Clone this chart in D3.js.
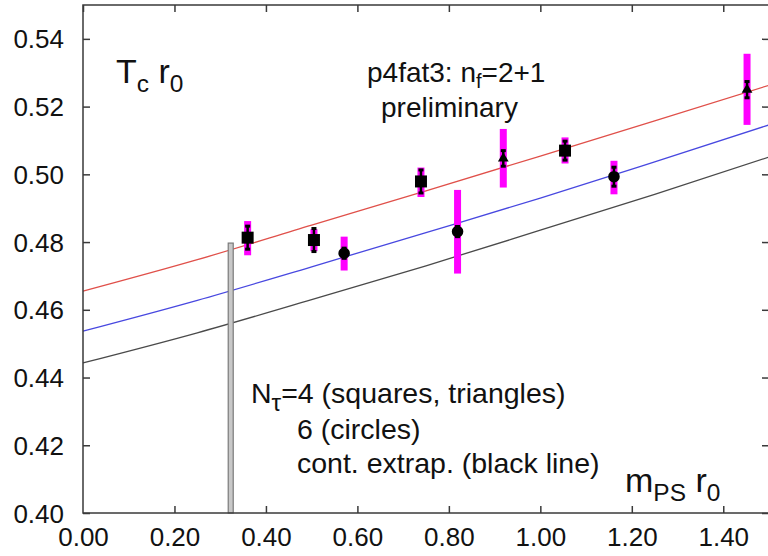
<!DOCTYPE html>
<html><head><meta charset="utf-8">
<script src="https://cdn.jsdelivr.net/npm/d3@7"></script>
<style>body{margin:0;background:#fff}svg{display:block}text{font-family:"Liberation Sans",Arial,Helvetica,sans-serif;fill:#111}</style>
</head><body><svg id="c" width="768" height="556"></svg>
<script>
// ---- data ----
const xTicks = [0.00, 0.20, 0.40, 0.60, 0.80, 1.00, 1.20, 1.40];
const yTicks = [0.40, 0.42, 0.44, 0.46, 0.48, 0.50, 0.52, 0.54];

// N_tau = 4 squares
const sqM   = [0.360, 0.505, 0.739, 1.054];
const sqT   = [0.4813, 0.4806, 0.4979, 0.5070];
const sqLo  = [0.4761, 0.4773, 0.4933, 0.5032];
const sqHi  = [0.4862, 0.4838, 0.5020, 0.5109];
const sqErr = [0.0034, 0.0034, 0.0034, 0.0028];

// N_tau = 4 triangles
const trM   = [0.919, 1.452];
const trT   = [0.5047, 0.5250];
const trLo  = [0.4961, 0.5146];
const trHi  = [0.5134, 0.5356];
const trErr = [0.0023, 0.0024];

// N_tau = 6 circles
const ciM   = [0.571, 0.819, 1.161];
const ciT   = [0.4767, 0.4831, 0.4993];
const ciLo  = [0.4716, 0.4707, 0.4941];
const ciHi  = [0.4816, 0.4954, 0.5040];
const ciErr = [0.0015, 0.0015, 0.0028];

// fit curves
const curveM  = [0.00, 0.25, 0.50, 0.75, 1.00, 1.25, 1.50];
const redT    = [0.4655, 0.4748, 0.4850, 0.4951, 0.5054, 0.5158, 0.5263];
const blueT   = [0.4537, 0.4628, 0.4727, 0.4828, 0.4930, 0.5037, 0.5146];
const blackT  = [0.4443, 0.4532, 0.4630, 0.4730, 0.4835, 0.4941, 0.5051];

// physical point marker
const physM = [0.323];
const physTop = [0.4797];

// ---- drawing ----
const svg = d3.select("#c");
const L = 83, R = 769, T = 5, B = 513;
const x = d3.scaleLinear().domain([0, 1.5]).range([L, R]);
const y = d3.scaleLinear().domain([0.40, 0.55]).range([B, T]);

// curves
const line = d3.line().x(d => x(d[0])).y(d => y(d[1])).curve(d3.curveMonotoneX);
[[redT, "#e0504a"], [blueT, "#4848e0"], [blackT, "#4a4a4a"]].forEach(([vals, col]) => {
  svg.append("path").datum(curveM.map((m, i) => [m, vals[i]]))
    .attr("d", line).attr("fill", "none").attr("stroke", col).attr("stroke-width", 1.3);
});

// gray physical bar
physM.forEach((m, i) => {
  svg.append("rect").attr("x", x(m) - 2.5).attr("width", 5)
    .attr("y", y(physTop[i])).attr("height", y(0.40) - y(physTop[i]))
    .attr("fill", "#c8c8c8").attr("stroke", "#7a7a7a").attr("stroke-width", 1.2);
});

// error bars
function bars(M, lo, hi, Tv, err) {
  M.forEach((m, i) => {
    svg.append("line").attr("x1", x(m)).attr("x2", x(m)).attr("y1", y(lo[i])).attr("y2", y(hi[i]))
      .attr("stroke", "#ff00ff").attr("stroke-width", 7);
  });
  M.forEach((m, i) => {
    const a = y(Tv[i] - err[i]), b = y(Tv[i] + err[i]);
    svg.append("line").attr("x1", x(m)).attr("x2", x(m)).attr("y1", a).attr("y2", b)
      .attr("stroke", "#000").attr("stroke-width", 2.5);
    [a, b].forEach(v => svg.append("rect").attr("x", x(m) - 2.5).attr("y", v - 1.5)
      .attr("width", 5).attr("height", 3).attr("fill", "#000"));
  });
}
bars(sqM, sqLo, sqHi, sqT, sqErr);
bars(trM, trLo, trHi, trT, trErr);
bars(ciM, ciLo, ciHi, ciT, ciErr);

// markers
const sym = { sq: d3.symbol().type(d3.symbolSquare).size(144),
              ci: d3.symbol().type(d3.symbolCircle).size(105),
              tr: d3.symbol().type(d3.symbolTriangle).size(50) };
sqM.forEach((m, i) => svg.append("path").attr("d", sym.sq()).attr("transform", `translate(${x(m)},${y(sqT[i])})`).attr("fill", "#000"));
ciM.forEach((m, i) => svg.append("path").attr("d", sym.ci()).attr("transform", `translate(${x(m)},${y(ciT[i])})`).attr("fill", "#000"));
trM.forEach((m, i) => svg.append("path").attr("d", sym.tr()).attr("transform", `translate(${x(m)},${y(trT[i])})`).attr("fill", "#000"));

// frame
const frameCol = "#3a3a3a";
svg.append("rect").attr("x", L).attr("y", T).attr("width", R - L).attr("height", B - T)
  .attr("fill", "none").attr("stroke", frameCol).attr("stroke-width", 1.5);

// axes (inward ticks)
const fmt = d3.format(".2f");
const gx = svg.append("g").attr("transform", `translate(0,${B})`)
  .call(d3.axisBottom(x).tickValues(xTicks).tickFormat(fmt).tickSizeInner(-7).tickSizeOuter(0).tickPadding(15));
const gxt = svg.append("g").attr("transform", `translate(0,${T})`)
  .call(d3.axisTop(x).tickValues(xTicks).tickFormat("").tickSizeInner(-7).tickSizeOuter(0));
const gy = svg.append("g").attr("transform", `translate(${L},0)`)
  .call(d3.axisLeft(y).tickValues(yTicks).tickFormat(fmt).tickSizeInner(-7).tickSizeOuter(0).tickPadding(19));
const gyr = svg.append("g").attr("transform", `translate(${R},0)`)
  .call(d3.axisRight(y).tickValues(yTicks).tickFormat("").tickSizeInner(-7).tickSizeOuter(0));
[gx, gxt, gy, gyr].forEach(g => {
  g.select(".domain").remove();
  g.selectAll(".tick line").attr("stroke", frameCol).attr("stroke-width", 1.5);
  g.selectAll("text").style("font-size", "26px").attr("fill", "#111");
});
gx.selectAll(".tick text").attr("dy", "0.71em");
gy.selectAll(".tick text").attr("dy", "0.35em");
gx.selectAll(".tick").filter(d => d === 0).select("line").remove();

// labels
function label(xp, yp, parts, size) {
  const t = svg.append("text").attr("x", xp).attr("y", yp).style("font-size", size + "px");
  let shift = 0;
  parts.forEach(p => {
    const sub = p.sub;
    const target = sub ? sub : 0;
    t.append("tspan").text(p.t).attr("dy", target - shift).style("font-size", (sub ? size * (p.scale || 0.72) : size) + "px");
    shift = target;
  });
  return t;
}
label(116, 83, [{t: "T"}, {t: "c", sub: 9}, {t: " r"}, {t: "0", sub: 9}], 34);
label(367, 82, [{t: "p4fat3: n"}, {t: "f", sub: 6}, {t: "=2+1"}], 28);
label(381, 117, [{t: "preliminary"}], 28);
label(251, 403, [{t: "N"}, {t: "τ", sub: 8, scale: 0.85}, {t: "=4 (squares, triangles)"}], 28.5);
label(297, 439, [{t: "6 (circles)"}], 28.5);
label(297, 473, [{t: "cont. extrap. (black line)"}], 28.5);
label(625, 492, [{t: "m"}, {t: "PS", sub: 9}, {t: " r"}, {t: "0", sub: 9}], 34);
</script></body></html>
